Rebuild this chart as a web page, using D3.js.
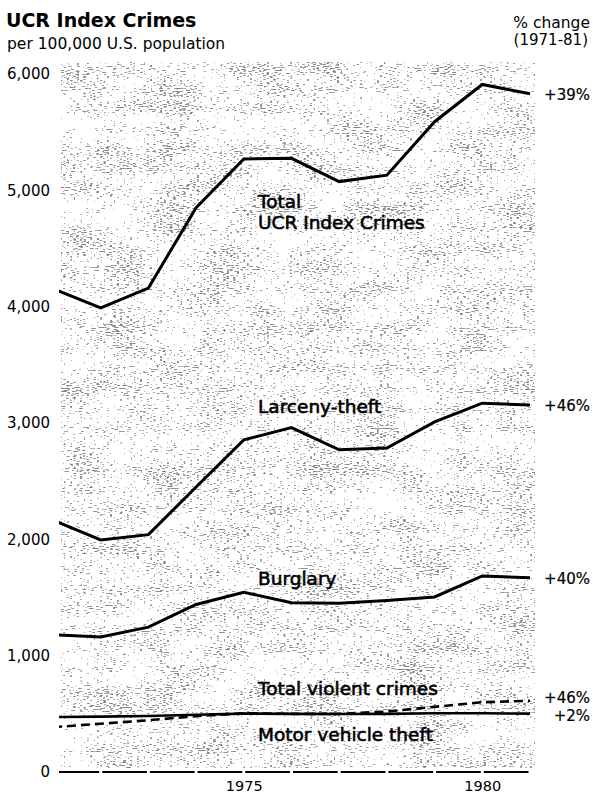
<!DOCTYPE html>
<html>
<head>
<meta charset="utf-8">
<script src="https://cdn.jsdelivr.net/npm/d3@7"></script>
<style>
  body { margin: 0; background: #fff; }
  text { font-family: "DejaVu Sans", sans-serif; fill: #000; }
</style>
</head>
<body>
<div id="chart"></div>
<script>
// UCR index crime rates per 100,000
var years    = [1971, 1972, 1973, 1974, 1975, 1976, 1977, 1978, 1979, 1980, 1981];
var total    = [4155, 3990, 4160, 4850, 5270, 5275, 5075, 5130, 5590, 5910, 5830];
var larceny  = [2165, 1995, 2040, 2450, 2855, 2960, 2770, 2785, 3010, 3170, 3155];
var burglary = [1180, 1160, 1245, 1440, 1545, 1455, 1450, 1475, 1505, 1685, 1670];
var violent  = [385, 415, 445, 480, 505, 500, 500, 520, 560, 600, 612];
var motor    = [472, 476, 482, 492, 502, 500, 498, 500, 505, 505, 502];
var yTicks   = [0, 1000, 2000, 3000, 4000, 5000, 6000];
var xTicks   = [1975, 1980];

var width = 593, height = 793;

var svg = d3.select("#chart").append("svg")
    .attr("width", width)
    .attr("height", height);

svg.append("rect").attr("width", width).attr("height", height).attr("fill", "#fff");

var x = d3.scaleLinear().domain([1971, 1981]).range([53, 530]);
var y = d3.scaleLinear().domain([0, 6000]).range([772, 74]);

var defs = svg.append("defs");
defs.append("clipPath").attr("id", "plot")
  .append("rect").attr("x", 59).attr("y", 0).attr("width", 480).attr("height", height);

// scanned-paper stipple behind the lines
var f = defs.append("filter").attr("id", "stip")
    .attr("x", 0).attr("y", 0).attr("width", 1).attr("height", 1);
f.append("feTurbulence").attr("type", "fractalNoise").attr("baseFrequency", "0.3 0.95")
  .attr("numOctaves", 1).attr("seed", 4).attr("result", "t1");
f.append("feColorMatrix").attr("in", "t1").attr("type", "matrix")
  .attr("values", "0 0 0 0 0  0 0 0 0 0  0 0 0 0 0  1 0 0 0 0").attr("result", "a1");
f.append("feTurbulence").attr("type", "fractalNoise").attr("baseFrequency", "0.02 0.035")
  .attr("numOctaves", 2).attr("seed", 9).attr("result", "t2");
f.append("feColorMatrix").attr("in", "t2").attr("type", "matrix")
  .attr("values", "0 0 0 0 0  0 0 0 0 0  0 0 0 0 0  1 0 0 0 0").attr("result", "a2");
f.append("feComposite").attr("in", "a1").attr("in2", "a2").attr("operator", "arithmetic")
  .attr("k1", 0).attr("k2", 0.95).attr("k3", 0.3).attr("k4", 0).attr("result", "mix");
f.append("feComponentTransfer").attr("in", "mix")
  .append("feFuncA").attr("type", "discrete")
  .attr("tableValues", "0 0 0 0 0 0 0 0 0 0 0 0 0 0 0 0.6 0.8 0.9 1 1");

svg.append("rect")
  .attr("x", 61).attr("y", 62).attr("width", 474).attr("height", 706)
  .attr("fill", "#000")
  .attr("filter", "url(#stip)")
  .attr("opacity", 0.5);

// y axis labels
var yAxis = svg.append("g")
  .attr("transform", "translate(50,0)")
  .call(d3.axisLeft(y).tickValues(yTicks).tickFormat(d3.format(",")).tickSize(0).tickPadding(0));
yAxis.select(".domain").remove();
yAxis.selectAll("text").style("font-family", "DejaVu Sans").style("font-size", "15px").attr("fill", "#000");

// x axis labels
var xAxis = svg.append("g")
  .attr("transform", "translate(0,772)")
  .call(d3.axisBottom(x).tickValues(xTicks).tickFormat(d3.format("d")).tickSize(0));
xAxis.select(".domain").remove();
xAxis.selectAll("text").attr("y", 19).attr("dy", 0)
  .style("font-family", "DejaVu Sans").style("font-size", "14.5px").attr("fill", "#000");

var plot = svg.append("g").attr("clip-path", "url(#plot)");

// baseline drawn in pieces, a small gap at each year
plot.selectAll(".base")
  .data(years.slice(0, -1))
  .enter().append("line")
  .attr("x1", function(d) { return x(d) + 1.5; })
  .attr("x2", function(d) { return x(d + 1) - 1.5; })
  .attr("y1", y(0)).attr("y2", y(0))
  .attr("stroke", "#000").attr("stroke-width", 2.2);

var line = d3.line()
  .x(function(d, i) { return x(years[i]); })
  .y(function(d) { return y(d); });

var series = [
  {vals: total, w: 3, dash: null},
  {vals: larceny, w: 3, dash: null},
  {vals: burglary, w: 3, dash: null},
  {vals: motor, w: 2.6, dash: null},
  {vals: violent, w: 2.6, dash: "9,5"}
];

plot.selectAll(".series")
  .data(series)
  .enter().append("path")
  .attr("class", "series")
  .attr("d", function(d) { return line(d.vals); })
  .attr("fill", "none")
  .attr("stroke", "#000")
  .attr("stroke-width", function(d) { return d.w; })
  .attr("stroke-dasharray", function(d) { return d.dash; })
  .attr("stroke-linejoin", "miter");

// titles
svg.append("text").attr("x", 6).attr("y", 27)
  .style("font-size", "19px").style("font-weight", "bold")
  .text("UCR Index Crimes");
svg.append("text").attr("x", 7).attr("y", 49)
  .style("font-size", "15.5px")
  .text("per 100,000 U.S. population");
svg.append("text").attr("x", 590).attr("y", 28).attr("text-anchor", "end")
  .style("font-size", "15.5px")
  .text("% change");
svg.append("text").attr("x", 588).attr("y", 45).attr("text-anchor", "end")
  .style("font-size", "15px")
  .text("(1971-81)");

// series labels inside the plot
var labels = [
  ["Total", 258, 208],
  ["UCR Index Crimes", 258, 229],
  ["Larceny-theft", 258, 413],
  ["Burglary", 258, 585],
  ["Total violent crimes", 258, 695],
  ["Motor vehicle theft", 258, 741]
];
svg.selectAll(".lab")
  .data(labels)
  .enter().append("text")
  .attr("class", "lab")
  .attr("x", function(d) { return d[1]; })
  .attr("y", function(d) { return d[2]; })
  .style("font-size", "18.5px")
  .attr("stroke", "#000").attr("stroke-width", 0.6)
  .text(function(d) { return d[0]; });

// percent change at the right end
var changes = [
  ["+39%", total], ["+46%", larceny], ["+40%", burglary], ["+46%", violent], ["+2%", motor]
];
svg.selectAll(".pct")
  .data(changes)
  .enter().append("text")
  .attr("class", "pct")
  .attr("x", 590)
  .attr("y", function(d, i) {
    var v = d[1][d[1].length - 1];
    if (i === 3) return y(v) + 2;
    if (i === 4) return y(v) + 7;
    return y(v) + 6;
  })
  .attr("text-anchor", "end")
  .style("font-size", "15px")
  .attr("stroke", "#000").attr("stroke-width", 0.2)
  .text(function(d) { return d[0]; });
</script>
</body>
</html>
